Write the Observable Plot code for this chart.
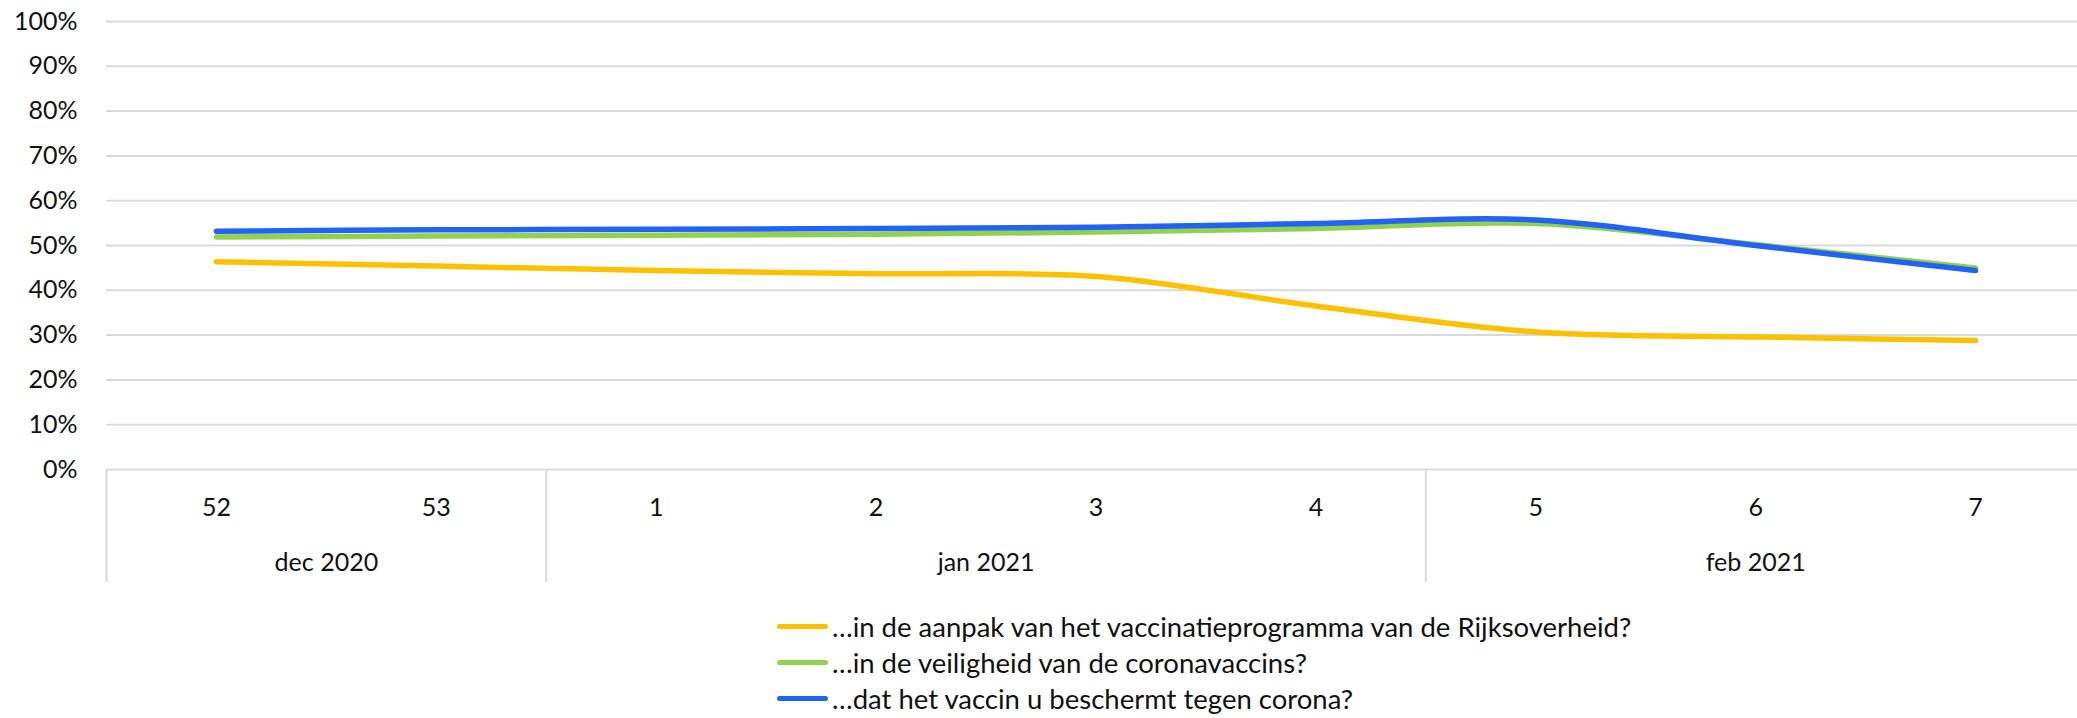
<!DOCTYPE html>
<html>
<head>
<meta charset="utf-8">
<script src="https://cdn.jsdelivr.net/npm/d3@7"></script>
<script src="https://cdn.jsdelivr.net/npm/@observablehq/plot@0.6"></script>
<style>
  html, body { margin: 0; padding: 0; background: #fff; }
  #wrap { position: relative; width: 2077px; height: 718px; overflow: hidden; font-family: Lato, "Open Sans", sans-serif; }
  #legend { position: absolute; left: 777px; top: 608px; }
  .row { display: flex; align-items: center; height: 36px; font-size: 27.5px; color: #111; white-space: nowrap; }
  .sw { display: inline-block; width: 51px; height: 5px; border-radius: 3px; margin-right: 4px; }
</style>
</head>
<body>
<div id="wrap"><div id="chart"></div><div id="legend"></div></div>
<script>
// ---- data ----
const weeks = ["52", "53", "1", "2", "3", "4", "5", "6", "7"];
const months = ["dec 2020", "jan 2021", "feb 2021"];
const monthOfWeek = [0, 0, 1, 1, 1, 1, 2, 2, 2];
const seriesNames = [
  "…in de aanpak van het vaccinatieprogramma van de Rijksoverheid?",
  "…in de veiligheid van de coronavaccins?",
  "…dat het vaccin u beschermt tegen corona?"
];
const aanpak     = [46.4, 45.4, 44.4, 43.7, 43.1, 36.5, 30.7, 29.6, 28.8];
const veiligheid = [51.9, 52.1, 52.3, 52.5, 53.0, 53.8, 54.9, 50.2, 45.0];
const beschermt  = [53.2, 53.5, 53.6, 53.8, 54.1, 54.9, 55.7, 50.0, 44.4];
const yTicks = [0, 10, 20, 30, 40, 50, 60, 70, 80, 90, 100];
const colors = ["#FFC000", "#92D050", "#2163F7"];

// ---- derived tables ----
const seriesValues = [aanpak, veiligheid, beschermt];
const rows = [];
seriesValues.forEach((vals, s) => vals.forEach((v, i) => rows.push({series: seriesNames[s], idx: i, value: v})));
const weekIdx = weeks.map((w, i) => i);
const monthGroups = months.map((m, k) => {
  const idxs = weekIdx.filter(i => monthOfWeek[i] === k);
  return {label: m, start: d3.min(idxs), end: d3.max(idxs), center: (d3.min(idxs) + d3.max(idxs)) / 2};
});
const boundaries = monthGroups.map(g => g.start - 0.5).concat([weeks.length - 0.5]);

const chart = Plot.plot({
  width: 2077,
  height: 595,
  marginTop: 21,
  marginBottom: 126,
  marginLeft: 106,
  marginRight: 0,
  style: {fontFamily: "Lato, 'Open Sans', sans-serif", fontSize: "25px", color: "#111", background: "#fff", overflow: "visible"},
  x: {type: "linear", domain: [-0.5, weeks.length - 0.5], range: [106, 2085], axis: null},
  y: {domain: [0, 100], axis: null},
  color: {domain: seriesNames, range: colors},
  marks: [
    Plot.ruleY(yTicks, {stroke: "#D9D9D9", strokeWidth: 2}),
    Plot.axisY({ticks: yTicks, tickSize: 0, tickPadding: 29, tickFormat: d => d + "%", fontSize: 25, label: null}),
    Plot.axisX({ticks: boundaries, tickSize: 113, tickFormat: () => "", stroke: "#D9D9D9", strokeWidth: 2, label: null}),
    Plot.text(weekIdx, {x: d => d, text: d => weeks[d], frameAnchor: "bottom", dy: 38, lineAnchor: "middle", fontSize: 25}),
    Plot.text(monthGroups, {x: "center", text: "label", frameAnchor: "bottom", dy: 93, lineAnchor: "middle", fontSize: 25}),
    Plot.line(rows, {x: "idx", y: "value", z: "series", stroke: "series", strokeWidth: 5.5, curve: "catmull-rom", strokeLinecap: "round", strokeLinejoin: "round"})
  ]
});
document.getElementById("chart").appendChild(chart);

const legend = document.getElementById("legend");
seriesNames.forEach((n, i) => {
  const r = document.createElement("div");
  r.className = "row";
  r.innerHTML = `<span class="sw" style="background:${colors[i]}"></span><span>${n}</span>`;
  legend.appendChild(r);
});
</script>
</body>
</html>
